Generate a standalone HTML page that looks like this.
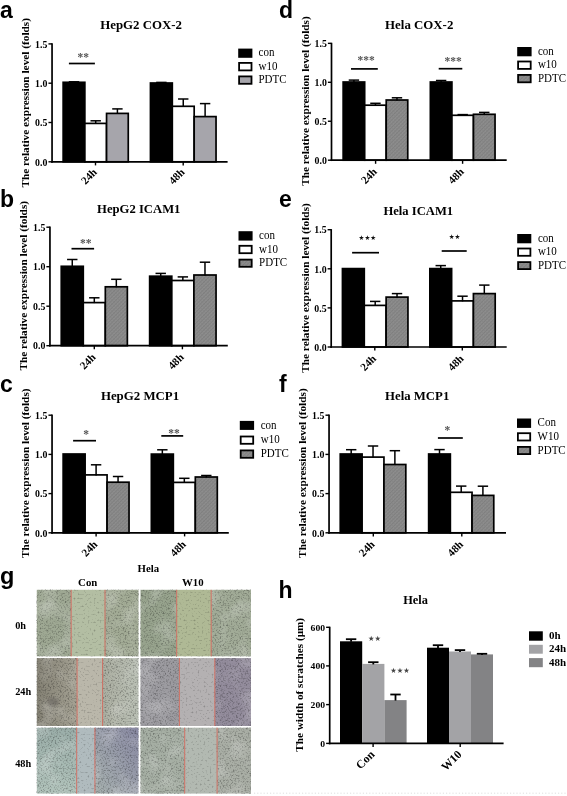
<!DOCTYPE html>
<html><head><meta charset="utf-8"><style>
html,body{margin:0;padding:0;background:#fff;}
svg{display:block;filter:blur(0.3px);}
</style></head><body>
<svg width="567" height="796" viewBox="0 0 567 796">
<defs><pattern id="hatch" width="2.6" height="2.6" patternUnits="userSpaceOnUse" patternTransform="rotate(45)"><rect width="2.6" height="2.6" fill="#8d8d8d"/><rect width="0.7" height="2.6" fill="#7b7b7b"/><rect width="2.6" height="0.6" fill="#838383"/></pattern><filter id="tex" x="0" y="0" width="100%" height="100%"><feTurbulence type="fractalNoise" baseFrequency="0.6" numOctaves="3" seed="7"/><feColorMatrix type="matrix" values="0 0 0 0 0  0 0 0 0 0  0 0 0 0 0  3 0 0 0 -1.45"/><feGaussianBlur stdDeviation="0.35"/></filter><filter id="mot" x="0" y="0" width="100%" height="100%"><feTurbulence type="fractalNoise" baseFrequency="0.05" numOctaves="2" seed="2"/><feColorMatrix type="matrix" values="0 0 0 0 1  0 0 0 0 1  0 0 0 0 1  2 0 0 0 -0.9"/></filter><filter id="blur" x="-50%" y="-50%" width="200%" height="200%"><feGaussianBlur stdDeviation="1.5"/></filter><filter id="tex2" x="0" y="0" width="100%" height="100%"><feTurbulence type="fractalNoise" baseFrequency="0.5" numOctaves="3" seed="11"/><feColorMatrix type="matrix" values="0 0 0 0 0  0 0 0 0 0  0 0 0 0 0  3.2 0 0 0 -1.85"/><feGaussianBlur stdDeviation="0.35"/></filter><linearGradient id="g1" x1="0" y1="0" x2="1" y2="0"><stop offset="0" stop-color="#838073"/><stop offset="1" stop-color="#a5a294"/></linearGradient><linearGradient id="g2" x1="0" y1="0" x2="1" y2="0"><stop offset="0" stop-color="#abaea1"/><stop offset="1" stop-color="#bac0b5"/></linearGradient><linearGradient id="g3" x1="0" y1="0" x2="0" y2="1"><stop offset="0" stop-color="#9aada8"/><stop offset="1" stop-color="#b1c3bb"/></linearGradient><linearGradient id="g4" x1="1" y1="0" x2="0" y2="1"><stop offset="0" stop-color="#8989a3"/><stop offset="1" stop-color="#a7b1af"/></linearGradient></defs>
<rect width="567" height="796" fill="#fff"/>
<rect x="63.15" y="82.30" width="21.70" height="79.50" fill="#000" stroke="#000" stroke-width="1.7"/>
<line x1="74.00" y1="82.80" x2="74.00" y2="81.80" stroke="#000" stroke-width="1.5"/>
<line x1="68.80" y1="81.80" x2="79.20" y2="81.80" stroke="#000" stroke-width="1.5"/>
<rect x="84.85" y="123.40" width="21.70" height="38.40" fill="#fff" stroke="#000" stroke-width="1.7"/>
<line x1="95.70" y1="123.90" x2="95.70" y2="120.80" stroke="#000" stroke-width="1.5"/>
<line x1="90.50" y1="120.80" x2="100.90" y2="120.80" stroke="#000" stroke-width="1.5"/>
<rect x="106.56" y="113.40" width="21.70" height="48.40" fill="#a6a5ab" stroke="#000" stroke-width="1.7"/>
<line x1="117.41" y1="113.90" x2="117.41" y2="108.90" stroke="#000" stroke-width="1.5"/>
<line x1="112.21" y1="108.90" x2="122.61" y2="108.90" stroke="#000" stroke-width="1.5"/>
<rect x="150.45" y="83.00" width="21.86" height="78.80" fill="#000" stroke="#000" stroke-width="1.7"/>
<line x1="161.38" y1="83.50" x2="161.38" y2="82.40" stroke="#000" stroke-width="1.5"/>
<line x1="156.18" y1="82.40" x2="166.58" y2="82.40" stroke="#000" stroke-width="1.5"/>
<rect x="172.31" y="106.30" width="21.86" height="55.50" fill="#fff" stroke="#000" stroke-width="1.7"/>
<line x1="183.25" y1="106.80" x2="183.25" y2="99.00" stroke="#000" stroke-width="1.5"/>
<line x1="178.05" y1="99.00" x2="188.44" y2="99.00" stroke="#000" stroke-width="1.5"/>
<rect x="194.18" y="116.60" width="21.86" height="45.20" fill="#a6a5ab" stroke="#000" stroke-width="1.7"/>
<line x1="205.11" y1="117.10" x2="205.11" y2="103.60" stroke="#000" stroke-width="1.5"/>
<line x1="199.91" y1="103.60" x2="210.31" y2="103.60" stroke="#000" stroke-width="1.5"/>
<line x1="52.05" y1="43.30" x2="52.05" y2="162.65" stroke="#000" stroke-width="1.7"/>
<line x1="51.20" y1="161.80" x2="227.60" y2="161.80" stroke="#000" stroke-width="1.7"/>
<line x1="48.45" y1="161.80" x2="52.05" y2="161.80" stroke="#000" stroke-width="1.4"/>
<text transform="translate(47.45 165.50) scale(1.06 1.0)" font-size="9.3" font-weight="bold" text-anchor="end" font-family="'Liberation Serif','Times New Roman',serif" fill="#000">0.0</text>
<line x1="48.45" y1="122.50" x2="52.05" y2="122.50" stroke="#000" stroke-width="1.4"/>
<text transform="translate(47.45 126.20) scale(1.06 1.0)" font-size="9.3" font-weight="bold" text-anchor="end" font-family="'Liberation Serif','Times New Roman',serif" fill="#000">0.5</text>
<line x1="48.45" y1="83.20" x2="52.05" y2="83.20" stroke="#000" stroke-width="1.4"/>
<text transform="translate(47.45 86.90) scale(1.06 1.0)" font-size="9.3" font-weight="bold" text-anchor="end" font-family="'Liberation Serif','Times New Roman',serif" fill="#000">1.0</text>
<line x1="48.45" y1="43.90" x2="52.05" y2="43.90" stroke="#000" stroke-width="1.4"/>
<text transform="translate(47.45 47.60) scale(1.06 1.0)" font-size="9.3" font-weight="bold" text-anchor="end" font-family="'Liberation Serif','Times New Roman',serif" fill="#000">1.5</text>
<line x1="95.50" y1="161.80" x2="95.50" y2="165.40" stroke="#000" stroke-width="1.4"/>
<text transform="translate(97.60 172.80) rotate(-45)" font-size="11.0" font-weight="bold" text-anchor="end" font-family="'Liberation Serif','Times New Roman',serif" fill="#000">24h</text>
<line x1="183.20" y1="161.80" x2="183.20" y2="165.40" stroke="#000" stroke-width="1.4"/>
<text transform="translate(185.30 172.80) rotate(-45)" font-size="11.0" font-weight="bold" text-anchor="end" font-family="'Liberation Serif','Times New Roman',serif" fill="#000">48h</text>
<text transform="translate(29.10 102.80) scale(0.97 1.0) rotate(-90)" font-size="11.3" font-weight="bold" text-anchor="middle" font-family="'Liberation Serif','Times New Roman',serif" fill="#000">The relative expression level (folds)</text>
<text transform="translate(100.20 29.20)" font-size="12.875" font-weight="bold" text-anchor="start" font-family="'Liberation Serif','Times New Roman',serif" fill="#000">HepG2 COX-2</text>
<line x1="68.90" y1="63.50" x2="94.90" y2="63.50" stroke="#000" stroke-width="1.7"/>
<text transform="translate(83.15 60.60)" font-size="11.5" font-weight="bold" text-anchor="middle" font-family="'Liberation Serif','Times New Roman',serif" fill="#555">**</text>
<rect x="239.10" y="49.50" width="12.40" height="7.40" fill="#000" stroke="#000" stroke-width="1.8"/>
<text transform="translate(258.50 56.40) scale(1.0 1.09)" font-size="11" font-weight="normal" text-anchor="start" font-family="'Liberation Serif','Times New Roman',serif" fill="#000">con</text>
<rect x="239.10" y="62.90" width="12.40" height="7.50" fill="#fff" stroke="#000" stroke-width="1.8"/>
<text transform="translate(258.50 69.85) scale(1.0 1.09)" font-size="11" font-weight="normal" text-anchor="start" font-family="'Liberation Serif','Times New Roman',serif" fill="#000">w10</text>
<rect x="239.10" y="76.40" width="12.40" height="7.40" fill="#a6a5ab" stroke="#000" stroke-width="1.8"/>
<text transform="translate(258.50 83.30) scale(1.0 1.09)" font-size="11" font-weight="normal" text-anchor="start" font-family="'Liberation Serif','Times New Roman',serif" fill="#000">PDTC</text>
<text transform="translate(0.00 18.00)" font-size="23" font-weight="bold" text-anchor="start" font-family="'Liberation Sans',Arial,sans-serif" fill="#000">a</text>
<rect x="343.15" y="82.00" width="21.53" height="78.20" fill="#000" stroke="#000" stroke-width="1.7"/>
<line x1="353.92" y1="82.50" x2="353.92" y2="80.10" stroke="#000" stroke-width="1.5"/>
<line x1="348.72" y1="80.10" x2="359.12" y2="80.10" stroke="#000" stroke-width="1.5"/>
<rect x="364.68" y="105.20" width="21.53" height="55.00" fill="#fff" stroke="#000" stroke-width="1.7"/>
<line x1="375.45" y1="105.70" x2="375.45" y2="103.30" stroke="#000" stroke-width="1.5"/>
<line x1="370.25" y1="103.30" x2="380.65" y2="103.30" stroke="#000" stroke-width="1.5"/>
<rect x="386.22" y="100.00" width="21.53" height="60.20" fill="url(#hatch)" stroke="#000" stroke-width="1.7"/>
<line x1="396.98" y1="100.50" x2="396.98" y2="97.80" stroke="#000" stroke-width="1.5"/>
<line x1="391.78" y1="97.80" x2="402.18" y2="97.80" stroke="#000" stroke-width="1.5"/>
<rect x="430.35" y="82.00" width="21.56" height="78.20" fill="#000" stroke="#000" stroke-width="1.7"/>
<line x1="441.13" y1="82.50" x2="441.13" y2="80.50" stroke="#000" stroke-width="1.5"/>
<line x1="435.93" y1="80.50" x2="446.33" y2="80.50" stroke="#000" stroke-width="1.5"/>
<rect x="451.91" y="115.30" width="21.56" height="44.90" fill="#fff" stroke="#000" stroke-width="1.7"/>
<line x1="462.70" y1="115.80" x2="462.70" y2="114.60" stroke="#000" stroke-width="1.5"/>
<line x1="457.50" y1="114.60" x2="467.90" y2="114.60" stroke="#000" stroke-width="1.5"/>
<rect x="473.48" y="114.30" width="21.56" height="45.90" fill="url(#hatch)" stroke="#000" stroke-width="1.7"/>
<line x1="484.26" y1="114.80" x2="484.26" y2="112.40" stroke="#000" stroke-width="1.5"/>
<line x1="479.06" y1="112.40" x2="489.46" y2="112.40" stroke="#000" stroke-width="1.5"/>
<line x1="331.50" y1="42.75" x2="331.50" y2="161.05" stroke="#000" stroke-width="1.7"/>
<line x1="330.65" y1="160.20" x2="506.70" y2="160.20" stroke="#000" stroke-width="1.7"/>
<line x1="327.90" y1="160.20" x2="331.50" y2="160.20" stroke="#000" stroke-width="1.4"/>
<text transform="translate(326.90 163.90) scale(1.06 1.0)" font-size="9.3" font-weight="bold" text-anchor="end" font-family="'Liberation Serif','Times New Roman',serif" fill="#000">0.0</text>
<line x1="327.90" y1="121.25" x2="331.50" y2="121.25" stroke="#000" stroke-width="1.4"/>
<text transform="translate(326.90 124.95) scale(1.06 1.0)" font-size="9.3" font-weight="bold" text-anchor="end" font-family="'Liberation Serif','Times New Roman',serif" fill="#000">0.5</text>
<line x1="327.90" y1="82.30" x2="331.50" y2="82.30" stroke="#000" stroke-width="1.4"/>
<text transform="translate(326.90 86.00) scale(1.06 1.0)" font-size="9.3" font-weight="bold" text-anchor="end" font-family="'Liberation Serif','Times New Roman',serif" fill="#000">1.0</text>
<line x1="327.90" y1="43.35" x2="331.50" y2="43.35" stroke="#000" stroke-width="1.4"/>
<text transform="translate(326.90 47.05) scale(1.06 1.0)" font-size="9.3" font-weight="bold" text-anchor="end" font-family="'Liberation Serif','Times New Roman',serif" fill="#000">1.5</text>
<line x1="375.60" y1="160.20" x2="375.60" y2="163.80" stroke="#000" stroke-width="1.4"/>
<text transform="translate(377.70 172.50) rotate(-45)" font-size="11.0" font-weight="bold" text-anchor="end" font-family="'Liberation Serif','Times New Roman',serif" fill="#000">24h</text>
<line x1="462.60" y1="160.20" x2="462.60" y2="163.80" stroke="#000" stroke-width="1.4"/>
<text transform="translate(464.70 172.50) rotate(-45)" font-size="11.0" font-weight="bold" text-anchor="end" font-family="'Liberation Serif','Times New Roman',serif" fill="#000">48h</text>
<text transform="translate(309.00 101.05) scale(0.97 1.0) rotate(-90)" font-size="11.3" font-weight="bold" text-anchor="middle" font-family="'Liberation Serif','Times New Roman',serif" fill="#000">The relative expression level (folds)</text>
<text transform="translate(385.10 28.90)" font-size="12.875" font-weight="bold" text-anchor="start" font-family="'Liberation Serif','Times New Roman',serif" fill="#000">Hela COX-2</text>
<line x1="351.00" y1="68.90" x2="377.80" y2="68.90" stroke="#000" stroke-width="1.7"/>
<text transform="translate(366.00 63.80)" font-size="11.5" font-weight="bold" text-anchor="middle" font-family="'Liberation Serif','Times New Roman',serif" fill="#555">***</text>
<line x1="438.70" y1="68.70" x2="462.30" y2="68.70" stroke="#000" stroke-width="1.7"/>
<text transform="translate(453.10 65.00)" font-size="11.5" font-weight="bold" text-anchor="middle" font-family="'Liberation Serif','Times New Roman',serif" fill="#555">***</text>
<rect x="518.10" y="47.90" width="12.60" height="7.50" fill="#000" stroke="#000" stroke-width="1.8"/>
<text transform="translate(537.90 54.85) scale(1.0 1.09)" font-size="11" font-weight="normal" text-anchor="start" font-family="'Liberation Serif','Times New Roman',serif" fill="#000">con</text>
<rect x="518.10" y="61.50" width="12.60" height="7.40" fill="#fff" stroke="#000" stroke-width="1.8"/>
<text transform="translate(537.90 68.40) scale(1.0 1.09)" font-size="11" font-weight="normal" text-anchor="start" font-family="'Liberation Serif','Times New Roman',serif" fill="#000">w10</text>
<rect x="518.10" y="74.90" width="12.60" height="7.40" fill="url(#hatch)" stroke="#000" stroke-width="1.8"/>
<text transform="translate(537.90 81.80) scale(1.0 1.09)" font-size="11" font-weight="normal" text-anchor="start" font-family="'Liberation Serif','Times New Roman',serif" fill="#000">PDTC</text>
<text transform="translate(279.00 18.00)" font-size="23" font-weight="bold" text-anchor="start" font-family="'Liberation Sans',Arial,sans-serif" fill="#000">d</text>
<rect x="61.25" y="266.30" width="22.03" height="79.40" fill="#000" stroke="#000" stroke-width="1.7"/>
<line x1="72.27" y1="266.80" x2="72.27" y2="259.50" stroke="#000" stroke-width="1.5"/>
<line x1="67.07" y1="259.50" x2="77.47" y2="259.50" stroke="#000" stroke-width="1.5"/>
<rect x="83.28" y="302.60" width="22.03" height="43.10" fill="#fff" stroke="#000" stroke-width="1.7"/>
<line x1="94.30" y1="303.10" x2="94.30" y2="297.80" stroke="#000" stroke-width="1.5"/>
<line x1="89.10" y1="297.80" x2="99.50" y2="297.80" stroke="#000" stroke-width="1.5"/>
<rect x="105.32" y="286.80" width="22.03" height="58.90" fill="url(#hatch)" stroke="#000" stroke-width="1.7"/>
<line x1="116.33" y1="287.30" x2="116.33" y2="279.30" stroke="#000" stroke-width="1.5"/>
<line x1="111.13" y1="279.30" x2="121.53" y2="279.30" stroke="#000" stroke-width="1.5"/>
<rect x="149.65" y="276.20" width="22.13" height="69.50" fill="#000" stroke="#000" stroke-width="1.7"/>
<line x1="160.72" y1="276.70" x2="160.72" y2="273.40" stroke="#000" stroke-width="1.5"/>
<line x1="155.52" y1="273.40" x2="165.92" y2="273.40" stroke="#000" stroke-width="1.5"/>
<rect x="171.78" y="280.50" width="22.13" height="65.20" fill="#fff" stroke="#000" stroke-width="1.7"/>
<line x1="182.85" y1="281.00" x2="182.85" y2="276.90" stroke="#000" stroke-width="1.5"/>
<line x1="177.65" y1="276.90" x2="188.05" y2="276.90" stroke="#000" stroke-width="1.5"/>
<rect x="193.92" y="275.00" width="22.13" height="70.70" fill="url(#hatch)" stroke="#000" stroke-width="1.7"/>
<line x1="204.98" y1="275.50" x2="204.98" y2="262.20" stroke="#000" stroke-width="1.5"/>
<line x1="199.78" y1="262.20" x2="210.18" y2="262.20" stroke="#000" stroke-width="1.5"/>
<line x1="49.95" y1="226.60" x2="49.95" y2="346.55" stroke="#000" stroke-width="1.7"/>
<line x1="49.10" y1="345.70" x2="227.80" y2="345.70" stroke="#000" stroke-width="1.7"/>
<line x1="46.35" y1="345.70" x2="49.95" y2="345.70" stroke="#000" stroke-width="1.4"/>
<text transform="translate(45.35 349.40) scale(1.06 1.0)" font-size="9.3" font-weight="bold" text-anchor="end" font-family="'Liberation Serif','Times New Roman',serif" fill="#000">0.0</text>
<line x1="46.35" y1="306.20" x2="49.95" y2="306.20" stroke="#000" stroke-width="1.4"/>
<text transform="translate(45.35 309.90) scale(1.06 1.0)" font-size="9.3" font-weight="bold" text-anchor="end" font-family="'Liberation Serif','Times New Roman',serif" fill="#000">0.5</text>
<line x1="46.35" y1="266.70" x2="49.95" y2="266.70" stroke="#000" stroke-width="1.4"/>
<text transform="translate(45.35 270.40) scale(1.06 1.0)" font-size="9.3" font-weight="bold" text-anchor="end" font-family="'Liberation Serif','Times New Roman',serif" fill="#000">1.0</text>
<line x1="46.35" y1="227.20" x2="49.95" y2="227.20" stroke="#000" stroke-width="1.4"/>
<text transform="translate(45.35 230.90) scale(1.06 1.0)" font-size="9.3" font-weight="bold" text-anchor="end" font-family="'Liberation Serif','Times New Roman',serif" fill="#000">1.5</text>
<line x1="94.30" y1="345.70" x2="94.30" y2="349.30" stroke="#000" stroke-width="1.4"/>
<text transform="translate(96.40 358.00) rotate(-45)" font-size="11.0" font-weight="bold" text-anchor="end" font-family="'Liberation Serif','Times New Roman',serif" fill="#000">24h</text>
<line x1="182.40" y1="345.70" x2="182.40" y2="349.30" stroke="#000" stroke-width="1.4"/>
<text transform="translate(184.50 358.00) rotate(-45)" font-size="11.0" font-weight="bold" text-anchor="end" font-family="'Liberation Serif','Times New Roman',serif" fill="#000">48h</text>
<text transform="translate(26.90 285.75) scale(0.97 1.0) rotate(-90)" font-size="11.3" font-weight="bold" text-anchor="middle" font-family="'Liberation Serif','Times New Roman',serif" fill="#000">The relative expression level (folds)</text>
<text transform="translate(97.10 212.60)" font-size="12.669" font-weight="bold" text-anchor="start" font-family="'Liberation Serif','Times New Roman',serif" fill="#000">HepG2 ICAM1</text>
<line x1="71.50" y1="248.70" x2="94.10" y2="248.70" stroke="#000" stroke-width="1.7"/>
<text transform="translate(85.80 246.50)" font-size="11.5" font-weight="bold" text-anchor="middle" font-family="'Liberation Serif','Times New Roman',serif" fill="#555">**</text>
<rect x="239.40" y="232.10" width="12.30" height="7.60" fill="#000" stroke="#000" stroke-width="1.8"/>
<text transform="translate(259.10 239.10) scale(1.0 1.09)" font-size="11" font-weight="normal" text-anchor="start" font-family="'Liberation Serif','Times New Roman',serif" fill="#000">con</text>
<rect x="239.40" y="245.80" width="12.30" height="7.40" fill="#fff" stroke="#000" stroke-width="1.8"/>
<text transform="translate(259.10 252.70) scale(1.0 1.09)" font-size="11" font-weight="normal" text-anchor="start" font-family="'Liberation Serif','Times New Roman',serif" fill="#000">w10</text>
<rect x="239.40" y="259.60" width="12.30" height="7.20" fill="url(#hatch)" stroke="#000" stroke-width="1.8"/>
<text transform="translate(259.10 266.40) scale(1.0 1.09)" font-size="11" font-weight="normal" text-anchor="start" font-family="'Liberation Serif','Times New Roman',serif" fill="#000">PDTC</text>
<text transform="translate(0.00 207.00)" font-size="23" font-weight="bold" text-anchor="start" font-family="'Liberation Sans',Arial,sans-serif" fill="#000">b</text>
<rect x="342.45" y="268.60" width="21.83" height="78.40" fill="#000" stroke="#000" stroke-width="1.7"/>
<rect x="364.28" y="305.40" width="21.83" height="41.60" fill="#fff" stroke="#000" stroke-width="1.7"/>
<line x1="375.20" y1="305.90" x2="375.20" y2="301.40" stroke="#000" stroke-width="1.5"/>
<line x1="370.00" y1="301.40" x2="380.40" y2="301.40" stroke="#000" stroke-width="1.5"/>
<rect x="386.12" y="297.10" width="21.83" height="49.90" fill="url(#hatch)" stroke="#000" stroke-width="1.7"/>
<line x1="397.03" y1="297.60" x2="397.03" y2="293.60" stroke="#000" stroke-width="1.5"/>
<line x1="391.83" y1="293.60" x2="402.23" y2="293.60" stroke="#000" stroke-width="1.5"/>
<rect x="429.85" y="268.60" width="21.78" height="78.40" fill="#000" stroke="#000" stroke-width="1.7"/>
<line x1="440.74" y1="269.10" x2="440.74" y2="265.60" stroke="#000" stroke-width="1.5"/>
<line x1="435.54" y1="265.60" x2="445.94" y2="265.60" stroke="#000" stroke-width="1.5"/>
<rect x="451.63" y="300.90" width="21.78" height="46.10" fill="#fff" stroke="#000" stroke-width="1.7"/>
<line x1="462.53" y1="301.40" x2="462.53" y2="296.20" stroke="#000" stroke-width="1.5"/>
<line x1="457.33" y1="296.20" x2="467.73" y2="296.20" stroke="#000" stroke-width="1.5"/>
<rect x="473.42" y="293.60" width="21.78" height="53.40" fill="url(#hatch)" stroke="#000" stroke-width="1.7"/>
<line x1="484.31" y1="294.10" x2="484.31" y2="285.10" stroke="#000" stroke-width="1.5"/>
<line x1="479.11" y1="285.10" x2="489.51" y2="285.10" stroke="#000" stroke-width="1.5"/>
<line x1="331.20" y1="229.10" x2="331.20" y2="347.85" stroke="#000" stroke-width="1.7"/>
<line x1="330.35" y1="347.00" x2="506.70" y2="347.00" stroke="#000" stroke-width="1.7"/>
<line x1="327.60" y1="347.00" x2="331.20" y2="347.00" stroke="#000" stroke-width="1.4"/>
<text transform="translate(326.60 350.70) scale(1.06 1.0)" font-size="9.3" font-weight="bold" text-anchor="end" font-family="'Liberation Serif','Times New Roman',serif" fill="#000">0.0</text>
<line x1="327.60" y1="307.90" x2="331.20" y2="307.90" stroke="#000" stroke-width="1.4"/>
<text transform="translate(326.60 311.60) scale(1.06 1.0)" font-size="9.3" font-weight="bold" text-anchor="end" font-family="'Liberation Serif','Times New Roman',serif" fill="#000">0.5</text>
<line x1="327.60" y1="268.80" x2="331.20" y2="268.80" stroke="#000" stroke-width="1.4"/>
<text transform="translate(326.60 272.50) scale(1.06 1.0)" font-size="9.3" font-weight="bold" text-anchor="end" font-family="'Liberation Serif','Times New Roman',serif" fill="#000">1.0</text>
<line x1="327.60" y1="229.70" x2="331.20" y2="229.70" stroke="#000" stroke-width="1.4"/>
<text transform="translate(326.60 233.40) scale(1.06 1.0)" font-size="9.3" font-weight="bold" text-anchor="end" font-family="'Liberation Serif','Times New Roman',serif" fill="#000">1.5</text>
<line x1="374.80" y1="347.00" x2="374.80" y2="350.60" stroke="#000" stroke-width="1.4"/>
<text transform="translate(376.90 359.30) rotate(-45)" font-size="11.0" font-weight="bold" text-anchor="end" font-family="'Liberation Serif','Times New Roman',serif" fill="#000">24h</text>
<line x1="462.30" y1="347.00" x2="462.30" y2="350.60" stroke="#000" stroke-width="1.4"/>
<text transform="translate(464.40 359.30) rotate(-45)" font-size="11.0" font-weight="bold" text-anchor="end" font-family="'Liberation Serif','Times New Roman',serif" fill="#000">48h</text>
<text transform="translate(308.80 288.00) scale(0.97 1.0) rotate(-90)" font-size="11.3" font-weight="bold" text-anchor="middle" font-family="'Liberation Serif','Times New Roman',serif" fill="#000">The relative expression level (folds)</text>
<text transform="translate(383.40 215.10)" font-size="12.6175" font-weight="bold" text-anchor="start" font-family="'Liberation Serif','Times New Roman',serif" fill="#000">Hela ICAM1</text>
<line x1="352.10" y1="252.70" x2="379.00" y2="252.70" stroke="#000" stroke-width="1.7"/>
<text transform="translate(367.30 240.30)" font-size="6.5" font-weight="normal" text-anchor="middle" font-family="'DejaVu Sans',sans-serif" fill="#111">★★★</text>
<line x1="441.70" y1="251.00" x2="466.70" y2="251.00" stroke="#000" stroke-width="1.7"/>
<text transform="translate(454.60 239.25)" font-size="6.5" font-weight="normal" text-anchor="middle" font-family="'DejaVu Sans',sans-serif" fill="#111">★★</text>
<rect x="518.10" y="234.90" width="12.30" height="7.50" fill="#000" stroke="#000" stroke-width="1.8"/>
<text transform="translate(537.90 241.85) scale(1.0 1.09)" font-size="11" font-weight="normal" text-anchor="start" font-family="'Liberation Serif','Times New Roman',serif" fill="#000">con</text>
<rect x="518.10" y="248.50" width="12.30" height="7.30" fill="#fff" stroke="#000" stroke-width="1.8"/>
<text transform="translate(537.90 255.35) scale(1.0 1.09)" font-size="11" font-weight="normal" text-anchor="start" font-family="'Liberation Serif','Times New Roman',serif" fill="#000">w10</text>
<rect x="518.10" y="262.10" width="12.30" height="7.00" fill="url(#hatch)" stroke="#000" stroke-width="1.8"/>
<text transform="translate(537.90 268.80) scale(1.0 1.09)" font-size="11" font-weight="normal" text-anchor="start" font-family="'Liberation Serif','Times New Roman',serif" fill="#000">PDTC</text>
<text transform="translate(279.00 207.00)" font-size="23" font-weight="bold" text-anchor="start" font-family="'Liberation Sans',Arial,sans-serif" fill="#000">e</text>
<rect x="63.15" y="454.00" width="21.96" height="78.80" fill="#000" stroke="#000" stroke-width="1.7"/>
<rect x="85.11" y="474.90" width="21.96" height="57.90" fill="#fff" stroke="#000" stroke-width="1.7"/>
<line x1="96.09" y1="475.40" x2="96.09" y2="464.80" stroke="#000" stroke-width="1.5"/>
<line x1="90.89" y1="464.80" x2="101.30" y2="464.80" stroke="#000" stroke-width="1.5"/>
<rect x="107.08" y="482.20" width="21.96" height="50.60" fill="url(#hatch)" stroke="#000" stroke-width="1.7"/>
<line x1="118.06" y1="482.70" x2="118.06" y2="476.50" stroke="#000" stroke-width="1.5"/>
<line x1="112.86" y1="476.50" x2="123.26" y2="476.50" stroke="#000" stroke-width="1.5"/>
<rect x="151.35" y="454.10" width="21.98" height="78.70" fill="#000" stroke="#000" stroke-width="1.7"/>
<line x1="162.34" y1="454.60" x2="162.34" y2="449.80" stroke="#000" stroke-width="1.5"/>
<line x1="157.14" y1="449.80" x2="167.54" y2="449.80" stroke="#000" stroke-width="1.5"/>
<rect x="173.33" y="482.40" width="21.98" height="50.40" fill="#fff" stroke="#000" stroke-width="1.7"/>
<line x1="184.32" y1="482.90" x2="184.32" y2="478.30" stroke="#000" stroke-width="1.5"/>
<line x1="179.12" y1="478.30" x2="189.52" y2="478.30" stroke="#000" stroke-width="1.5"/>
<rect x="195.32" y="477.00" width="21.98" height="55.80" fill="url(#hatch)" stroke="#000" stroke-width="1.7"/>
<line x1="206.31" y1="477.50" x2="206.31" y2="475.50" stroke="#000" stroke-width="1.5"/>
<line x1="201.11" y1="475.50" x2="211.51" y2="475.50" stroke="#000" stroke-width="1.5"/>
<line x1="52.05" y1="414.60" x2="52.05" y2="533.65" stroke="#000" stroke-width="1.7"/>
<line x1="51.20" y1="532.80" x2="228.80" y2="532.80" stroke="#000" stroke-width="1.7"/>
<line x1="48.45" y1="532.80" x2="52.05" y2="532.80" stroke="#000" stroke-width="1.4"/>
<text transform="translate(47.45 536.50) scale(1.06 1.0)" font-size="9.3" font-weight="bold" text-anchor="end" font-family="'Liberation Serif','Times New Roman',serif" fill="#000">0.0</text>
<line x1="48.45" y1="493.60" x2="52.05" y2="493.60" stroke="#000" stroke-width="1.4"/>
<text transform="translate(47.45 497.30) scale(1.06 1.0)" font-size="9.3" font-weight="bold" text-anchor="end" font-family="'Liberation Serif','Times New Roman',serif" fill="#000">0.5</text>
<line x1="48.45" y1="454.40" x2="52.05" y2="454.40" stroke="#000" stroke-width="1.4"/>
<text transform="translate(47.45 458.10) scale(1.06 1.0)" font-size="9.3" font-weight="bold" text-anchor="end" font-family="'Liberation Serif','Times New Roman',serif" fill="#000">1.0</text>
<line x1="48.45" y1="415.20" x2="52.05" y2="415.20" stroke="#000" stroke-width="1.4"/>
<text transform="translate(47.45 418.90) scale(1.06 1.0)" font-size="9.3" font-weight="bold" text-anchor="end" font-family="'Liberation Serif','Times New Roman',serif" fill="#000">1.5</text>
<line x1="96.10" y1="532.80" x2="96.10" y2="536.40" stroke="#000" stroke-width="1.4"/>
<text transform="translate(98.20 545.10) rotate(-45)" font-size="11.0" font-weight="bold" text-anchor="end" font-family="'Liberation Serif','Times New Roman',serif" fill="#000">24h</text>
<line x1="184.60" y1="532.80" x2="184.60" y2="536.40" stroke="#000" stroke-width="1.4"/>
<text transform="translate(186.70 545.10) rotate(-45)" font-size="11.0" font-weight="bold" text-anchor="end" font-family="'Liberation Serif','Times New Roman',serif" fill="#000">48h</text>
<text transform="translate(29.00 473.25) scale(0.97 1.0) rotate(-90)" font-size="11.3" font-weight="bold" text-anchor="middle" font-family="'Liberation Serif','Times New Roman',serif" fill="#000">The relative expression level (folds)</text>
<text transform="translate(100.90 400.30)" font-size="12.875" font-weight="bold" text-anchor="start" font-family="'Liberation Serif','Times New Roman',serif" fill="#000">HepG2 MCP1</text>
<line x1="73.10" y1="440.70" x2="96.00" y2="440.70" stroke="#000" stroke-width="1.7"/>
<text transform="translate(86.00 437.90)" font-size="11.5" font-weight="bold" text-anchor="middle" font-family="'Liberation Serif','Times New Roman',serif" fill="#555">*</text>
<line x1="161.30" y1="435.90" x2="183.20" y2="435.90" stroke="#000" stroke-width="1.7"/>
<text transform="translate(173.90 436.50)" font-size="11.5" font-weight="bold" text-anchor="middle" font-family="'Liberation Serif','Times New Roman',serif" fill="#555">**</text>
<rect x="240.70" y="421.80" width="12.50" height="7.20" fill="#000" stroke="#000" stroke-width="1.8"/>
<text transform="translate(260.70 428.60) scale(1.0 1.09)" font-size="11" font-weight="normal" text-anchor="start" font-family="'Liberation Serif','Times New Roman',serif" fill="#000">con</text>
<rect x="240.70" y="436.50" width="12.50" height="7.30" fill="#fff" stroke="#000" stroke-width="1.8"/>
<text transform="translate(260.70 443.35) scale(1.0 1.09)" font-size="11" font-weight="normal" text-anchor="start" font-family="'Liberation Serif','Times New Roman',serif" fill="#000">w10</text>
<rect x="240.70" y="450.40" width="12.50" height="7.40" fill="url(#hatch)" stroke="#000" stroke-width="1.8"/>
<text transform="translate(260.70 457.30) scale(1.0 1.09)" font-size="11" font-weight="normal" text-anchor="start" font-family="'Liberation Serif','Times New Roman',serif" fill="#000">PDTC</text>
<text transform="translate(0.00 392.00)" font-size="23" font-weight="bold" text-anchor="start" font-family="'Liberation Sans',Arial,sans-serif" fill="#000">c</text>
<rect x="340.25" y="454.00" width="21.85" height="78.80" fill="#000" stroke="#000" stroke-width="1.7"/>
<line x1="351.18" y1="454.50" x2="351.18" y2="449.70" stroke="#000" stroke-width="1.5"/>
<line x1="345.98" y1="449.70" x2="356.38" y2="449.70" stroke="#000" stroke-width="1.5"/>
<rect x="362.10" y="457.10" width="21.85" height="75.70" fill="#fff" stroke="#000" stroke-width="1.7"/>
<line x1="373.03" y1="457.60" x2="373.03" y2="446.00" stroke="#000" stroke-width="1.5"/>
<line x1="367.83" y1="446.00" x2="378.23" y2="446.00" stroke="#000" stroke-width="1.5"/>
<rect x="383.96" y="464.50" width="21.85" height="68.30" fill="url(#hatch)" stroke="#000" stroke-width="1.7"/>
<line x1="394.88" y1="465.00" x2="394.88" y2="450.70" stroke="#000" stroke-width="1.5"/>
<line x1="389.68" y1="450.70" x2="400.08" y2="450.70" stroke="#000" stroke-width="1.5"/>
<rect x="428.65" y="454.00" width="21.70" height="78.80" fill="#000" stroke="#000" stroke-width="1.7"/>
<line x1="439.50" y1="454.50" x2="439.50" y2="449.60" stroke="#000" stroke-width="1.5"/>
<line x1="434.30" y1="449.60" x2="444.70" y2="449.60" stroke="#000" stroke-width="1.5"/>
<rect x="450.35" y="492.30" width="21.70" height="40.50" fill="#fff" stroke="#000" stroke-width="1.7"/>
<line x1="461.21" y1="492.80" x2="461.21" y2="486.10" stroke="#000" stroke-width="1.5"/>
<line x1="456.01" y1="486.10" x2="466.41" y2="486.10" stroke="#000" stroke-width="1.5"/>
<rect x="472.06" y="495.40" width="21.70" height="37.40" fill="url(#hatch)" stroke="#000" stroke-width="1.7"/>
<line x1="482.91" y1="495.90" x2="482.91" y2="486.20" stroke="#000" stroke-width="1.5"/>
<line x1="477.71" y1="486.20" x2="488.11" y2="486.20" stroke="#000" stroke-width="1.5"/>
<line x1="329.05" y1="414.60" x2="329.05" y2="533.65" stroke="#000" stroke-width="1.7"/>
<line x1="328.20" y1="532.80" x2="506.00" y2="532.80" stroke="#000" stroke-width="1.7"/>
<line x1="325.45" y1="532.80" x2="329.05" y2="532.80" stroke="#000" stroke-width="1.4"/>
<text transform="translate(324.45 536.50) scale(1.06 1.0)" font-size="9.3" font-weight="bold" text-anchor="end" font-family="'Liberation Serif','Times New Roman',serif" fill="#000">0.0</text>
<line x1="325.45" y1="493.60" x2="329.05" y2="493.60" stroke="#000" stroke-width="1.4"/>
<text transform="translate(324.45 497.30) scale(1.06 1.0)" font-size="9.3" font-weight="bold" text-anchor="end" font-family="'Liberation Serif','Times New Roman',serif" fill="#000">0.5</text>
<line x1="325.45" y1="454.40" x2="329.05" y2="454.40" stroke="#000" stroke-width="1.4"/>
<text transform="translate(324.45 458.10) scale(1.06 1.0)" font-size="9.3" font-weight="bold" text-anchor="end" font-family="'Liberation Serif','Times New Roman',serif" fill="#000">1.0</text>
<line x1="325.45" y1="415.20" x2="329.05" y2="415.20" stroke="#000" stroke-width="1.4"/>
<text transform="translate(324.45 418.90) scale(1.06 1.0)" font-size="9.3" font-weight="bold" text-anchor="end" font-family="'Liberation Serif','Times New Roman',serif" fill="#000">1.5</text>
<line x1="373.30" y1="532.80" x2="373.30" y2="536.40" stroke="#000" stroke-width="1.4"/>
<text transform="translate(375.40 545.10) rotate(-45)" font-size="11.0" font-weight="bold" text-anchor="end" font-family="'Liberation Serif','Times New Roman',serif" fill="#000">24h</text>
<line x1="461.80" y1="532.80" x2="461.80" y2="536.40" stroke="#000" stroke-width="1.4"/>
<text transform="translate(463.90 545.10) rotate(-45)" font-size="11.0" font-weight="bold" text-anchor="end" font-family="'Liberation Serif','Times New Roman',serif" fill="#000">48h</text>
<text transform="translate(305.90 473.10) scale(0.97 1.0) rotate(-90)" font-size="11.3" font-weight="bold" text-anchor="middle" font-family="'Liberation Serif','Times New Roman',serif" fill="#000">The relative expression level (folds)</text>
<text transform="translate(385.10 400.20)" font-size="12.772" font-weight="bold" text-anchor="start" font-family="'Liberation Serif','Times New Roman',serif" fill="#000">Hela MCP1</text>
<line x1="437.90" y1="438.00" x2="462.80" y2="438.00" stroke="#000" stroke-width="1.7"/>
<text transform="translate(447.30 433.60)" font-size="11.5" font-weight="bold" text-anchor="middle" font-family="'Liberation Serif','Times New Roman',serif" fill="#555">*</text>
<rect x="517.90" y="419.40" width="12.30" height="7.60" fill="#000" stroke="#000" stroke-width="1.8"/>
<text transform="translate(537.60 426.40) scale(1.0 1.09)" font-size="11" font-weight="normal" text-anchor="start" font-family="'Liberation Serif','Times New Roman',serif" fill="#000">Con</text>
<rect x="517.90" y="433.20" width="12.30" height="7.30" fill="#fff" stroke="#000" stroke-width="1.8"/>
<text transform="translate(537.60 440.05) scale(1.0 1.09)" font-size="11" font-weight="normal" text-anchor="start" font-family="'Liberation Serif','Times New Roman',serif" fill="#000">W10</text>
<rect x="517.90" y="446.90" width="12.30" height="7.20" fill="url(#hatch)" stroke="#000" stroke-width="1.8"/>
<text transform="translate(537.60 453.70) scale(1.0 1.09)" font-size="11" font-weight="normal" text-anchor="start" font-family="'Liberation Serif','Times New Roman',serif" fill="#000">PDTC</text>
<text transform="translate(279.00 392.00)" font-size="23" font-weight="bold" text-anchor="start" font-family="'Liberation Sans',Arial,sans-serif" fill="#000">f</text>
<rect x="340.00" y="641.30" width="22.20" height="102.10" fill="#000"/>
<line x1="351.10" y1="641.80" x2="351.10" y2="639.20" stroke="#000" stroke-width="1.8"/>
<line x1="345.90" y1="639.20" x2="356.30" y2="639.20" stroke="#000" stroke-width="1.8"/>
<rect x="362.20" y="663.90" width="22.20" height="79.50" fill="#a3a3a6"/>
<line x1="373.30" y1="664.40" x2="373.30" y2="662.20" stroke="#000" stroke-width="1.8"/>
<line x1="368.10" y1="662.20" x2="378.50" y2="662.20" stroke="#000" stroke-width="1.8"/>
<rect x="384.40" y="700.10" width="22.20" height="43.30" fill="#838385"/>
<line x1="395.50" y1="700.60" x2="395.50" y2="694.50" stroke="#000" stroke-width="1.8"/>
<line x1="390.30" y1="694.50" x2="400.70" y2="694.50" stroke="#000" stroke-width="1.8"/>
<rect x="427.00" y="647.70" width="22.00" height="95.70" fill="#000"/>
<line x1="438.00" y1="648.20" x2="438.00" y2="645.20" stroke="#000" stroke-width="1.8"/>
<line x1="432.80" y1="645.20" x2="443.20" y2="645.20" stroke="#000" stroke-width="1.8"/>
<rect x="449.00" y="651.50" width="22.00" height="91.90" fill="#a3a3a6"/>
<line x1="460.00" y1="652.00" x2="460.00" y2="650.10" stroke="#000" stroke-width="1.8"/>
<line x1="454.80" y1="650.10" x2="465.20" y2="650.10" stroke="#000" stroke-width="1.8"/>
<rect x="471.00" y="654.40" width="22.00" height="89.00" fill="#838385"/>
<line x1="482.00" y1="654.90" x2="482.00" y2="653.80" stroke="#000" stroke-width="1.8"/>
<line x1="476.80" y1="653.80" x2="487.20" y2="653.80" stroke="#000" stroke-width="1.8"/>
<line x1="329.70" y1="626.70" x2="329.70" y2="744.25" stroke="#000" stroke-width="1.7"/>
<line x1="328.85" y1="743.40" x2="503.60" y2="743.40" stroke="#000" stroke-width="1.7"/>
<line x1="326.10" y1="743.40" x2="329.70" y2="743.40" stroke="#000" stroke-width="1.4"/>
<text transform="translate(325.10 746.70) scale(1.18 1.0)" font-size="8.2" font-weight="bold" text-anchor="end" font-family="'Liberation Serif','Times New Roman',serif" fill="#000">0</text>
<line x1="326.10" y1="704.60" x2="329.70" y2="704.60" stroke="#000" stroke-width="1.4"/>
<text transform="translate(325.10 707.90) scale(1.18 1.0)" font-size="8.2" font-weight="bold" text-anchor="end" font-family="'Liberation Serif','Times New Roman',serif" fill="#000">200</text>
<line x1="326.10" y1="665.90" x2="329.70" y2="665.90" stroke="#000" stroke-width="1.4"/>
<text transform="translate(325.10 669.20) scale(1.18 1.0)" font-size="8.2" font-weight="bold" text-anchor="end" font-family="'Liberation Serif','Times New Roman',serif" fill="#000">400</text>
<line x1="326.10" y1="627.30" x2="329.70" y2="627.30" stroke="#000" stroke-width="1.4"/>
<text transform="translate(325.10 630.60) scale(1.18 1.0)" font-size="8.2" font-weight="bold" text-anchor="end" font-family="'Liberation Serif','Times New Roman',serif" fill="#000">600</text>
<line x1="373.10" y1="743.40" x2="373.10" y2="747.00" stroke="#000" stroke-width="1.4"/>
<text transform="translate(375.20 755.10) rotate(-45)" font-size="11.6" font-weight="bold" text-anchor="end" font-family="'Liberation Serif','Times New Roman',serif" fill="#000">Con</text>
<line x1="460.20" y1="743.40" x2="460.20" y2="747.00" stroke="#000" stroke-width="1.4"/>
<text transform="translate(462.30 755.10) rotate(-45)" font-size="11.6" font-weight="bold" text-anchor="end" font-family="'Liberation Serif','Times New Roman',serif" fill="#000">W10</text>
<text transform="translate(303.00 684.80) scale(0.97 1.0) rotate(-90)" font-size="11.2" font-weight="bold" text-anchor="middle" font-family="'Liberation Serif','Times New Roman',serif" fill="#000">The width of scratches (μm)</text>
<text transform="translate(403.20 603.80)" font-size="12.36" font-weight="bold" text-anchor="start" font-family="'Liberation Serif','Times New Roman',serif" fill="#000">Hela</text>
<text transform="translate(374.40 641.20)" font-size="7.2" font-weight="normal" text-anchor="middle" font-family="'DejaVu Sans',sans-serif" fill="#444">★★</text>
<text transform="translate(400.00 673.40)" font-size="7.2" font-weight="normal" text-anchor="middle" font-family="'DejaVu Sans',sans-serif" fill="#444">★★★</text>
<rect x="529.00" y="631.30" width="13.80" height="9.40" fill="#000"/>
<text transform="translate(548.90 639.20)" font-size="11" font-weight="bold" text-anchor="start" font-family="'Liberation Serif','Times New Roman',serif" fill="#000">0h</text>
<rect x="529.00" y="644.80" width="13.80" height="8.90" fill="#a3a3a6"/>
<text transform="translate(548.90 652.45)" font-size="11" font-weight="bold" text-anchor="start" font-family="'Liberation Serif','Times New Roman',serif" fill="#000">24h</text>
<rect x="529.00" y="658.10" width="13.80" height="9.10" fill="#838385"/>
<text transform="translate(548.90 665.85)" font-size="11" font-weight="bold" text-anchor="start" font-family="'Liberation Serif','Times New Roman',serif" fill="#000">48h</text>
<text transform="translate(278.50 597.80)" font-size="23" font-weight="bold" text-anchor="start" font-family="'Liberation Sans',Arial,sans-serif" fill="#000">h</text>
<text transform="translate(0.00 583.50)" font-size="23.5" font-weight="bold" text-anchor="start" font-family="'Liberation Sans',Arial,sans-serif" fill="#000">g</text>
<text transform="translate(148.40 572.30)" font-size="10.8" font-weight="bold" text-anchor="middle" font-family="'Liberation Serif','Times New Roman',serif" fill="#000">Hela</text>
<text transform="translate(87.70 586.40)" font-size="10.8" font-weight="bold" text-anchor="middle" font-family="'Liberation Serif','Times New Roman',serif" fill="#000">Con</text>
<text transform="translate(192.80 586.40)" font-size="10.8" font-weight="bold" text-anchor="middle" font-family="'Liberation Serif','Times New Roman',serif" fill="#000">W10</text>
<text transform="translate(15.20 628.60)" font-size="10.3" font-weight="bold" text-anchor="start" font-family="'Liberation Serif','Times New Roman',serif" fill="#000">0h</text>
<text transform="translate(15.20 695.00)" font-size="10.3" font-weight="bold" text-anchor="start" font-family="'Liberation Serif','Times New Roman',serif" fill="#000">24h</text>
<text transform="translate(15.20 767.40)" font-size="10.3" font-weight="bold" text-anchor="start" font-family="'Liberation Serif','Times New Roman',serif" fill="#000">48h</text>
<rect x="36.80" y="589.80" width="34.40" height="66.50" fill="#9ea893"/>
<rect x="36.80" y="589.80" width="34.40" height="66.50" fill="#000" filter="url(#tex)" opacity="0.3"/>
<rect x="36.80" y="589.80" width="34.40" height="66.50" filter="url(#mot)" opacity="0.3"/>
<rect x="71.20" y="589.80" width="33.80" height="66.50" fill="#b3bea3"/>
<rect x="71.20" y="589.80" width="33.80" height="66.50" fill="#000" filter="url(#tex2)" opacity="0.25"/>
<rect x="105.00" y="589.80" width="33.50" height="66.50" fill="#a2ab95"/>
<rect x="105.00" y="589.80" width="33.50" height="66.50" fill="#000" filter="url(#tex)" opacity="0.3"/>
<rect x="105.00" y="589.80" width="33.50" height="66.50" filter="url(#mot)" opacity="0.3"/>
<line x1="71.20" y1="589.80" x2="71.20" y2="656.30" stroke="#cf6a5e" stroke-width="0.95"/>
<line x1="105.00" y1="589.80" x2="105.00" y2="656.30" stroke="#cf6a5e" stroke-width="0.95"/>
<rect x="140.50" y="589.80" width="36.20" height="66.50" fill="#97a38d"/>
<rect x="140.50" y="589.80" width="36.20" height="66.50" fill="#000" filter="url(#tex)" opacity="0.3"/>
<rect x="140.50" y="589.80" width="36.20" height="66.50" filter="url(#mot)" opacity="0.3"/>
<rect x="176.70" y="589.80" width="34.50" height="66.50" fill="#afb995"/>
<rect x="176.70" y="589.80" width="34.50" height="66.50" fill="#000" filter="url(#tex2)" opacity="0.25"/>
<rect x="211.20" y="589.80" width="39.80" height="66.50" fill="#a1ab97"/>
<rect x="211.20" y="589.80" width="39.80" height="66.50" fill="#000" filter="url(#tex)" opacity="0.3"/>
<rect x="211.20" y="589.80" width="39.80" height="66.50" filter="url(#mot)" opacity="0.3"/>
<line x1="176.70" y1="589.80" x2="176.70" y2="656.30" stroke="#cf6a5e" stroke-width="0.95"/>
<line x1="211.20" y1="589.80" x2="211.20" y2="656.30" stroke="#cf6a5e" stroke-width="0.95"/>
<rect x="36.80" y="658.10" width="40.30" height="67.90" fill="url(#g1)"/>
<rect x="36.80" y="658.10" width="40.30" height="67.90" fill="#000" filter="url(#tex)" opacity="0.3"/>
<rect x="36.80" y="658.10" width="40.30" height="67.90" filter="url(#mot)" opacity="0.3"/>
<rect x="77.10" y="658.10" width="25.50" height="67.90" fill="#bab7aa"/>
<rect x="77.10" y="658.10" width="25.50" height="67.90" fill="#000" filter="url(#tex2)" opacity="0.25"/>
<rect x="102.60" y="658.10" width="35.90" height="67.90" fill="url(#g2)"/>
<rect x="102.60" y="658.10" width="35.90" height="67.90" fill="#000" filter="url(#tex)" opacity="0.3"/>
<rect x="102.60" y="658.10" width="35.90" height="67.90" filter="url(#mot)" opacity="0.3"/>
<ellipse cx="53" cy="702" rx="6" ry="4.5" fill="#4e4a45" opacity="0.45" filter="url(#blur)"/>
<line x1="77.10" y1="658.10" x2="77.10" y2="726.00" stroke="#cf6a5e" stroke-width="0.95"/>
<line x1="102.60" y1="658.10" x2="102.60" y2="726.00" stroke="#cf6a5e" stroke-width="0.95"/>
<rect x="140.50" y="658.10" width="38.90" height="67.90" fill="#9c9ba0"/>
<rect x="140.50" y="658.10" width="38.90" height="67.90" fill="#000" filter="url(#tex)" opacity="0.3"/>
<rect x="140.50" y="658.10" width="38.90" height="67.90" filter="url(#mot)" opacity="0.3"/>
<rect x="179.40" y="658.10" width="35.40" height="67.90" fill="#b4b1b2"/>
<rect x="179.40" y="658.10" width="35.40" height="67.90" fill="#000" filter="url(#tex2)" opacity="0.25"/>
<rect x="214.80" y="658.10" width="36.20" height="67.90" fill="#938c9c"/>
<rect x="214.80" y="658.10" width="36.20" height="67.90" fill="#000" filter="url(#tex)" opacity="0.3"/>
<rect x="214.80" y="658.10" width="36.20" height="67.90" filter="url(#mot)" opacity="0.3"/>
<line x1="179.40" y1="658.10" x2="179.40" y2="726.00" stroke="#cf6a5e" stroke-width="0.95"/>
<line x1="214.80" y1="658.10" x2="214.80" y2="726.00" stroke="#cf6a5e" stroke-width="0.95"/>
<rect x="36.80" y="727.70" width="39.90" height="65.90" fill="url(#g3)"/>
<rect x="36.80" y="727.70" width="39.90" height="65.90" fill="#000" filter="url(#tex)" opacity="0.3"/>
<rect x="36.80" y="727.70" width="39.90" height="65.90" filter="url(#mot)" opacity="0.3"/>
<rect x="76.70" y="727.70" width="18.20" height="65.90" fill="#b0bbbe"/>
<rect x="76.70" y="727.70" width="18.20" height="65.90" fill="#000" filter="url(#tex2)" opacity="0.25"/>
<rect x="94.90" y="727.70" width="43.60" height="65.90" fill="url(#g4)"/>
<rect x="94.90" y="727.70" width="43.60" height="65.90" fill="#000" filter="url(#tex)" opacity="0.3"/>
<rect x="94.90" y="727.70" width="43.60" height="65.90" filter="url(#mot)" opacity="0.3"/>
<line x1="76.70" y1="727.70" x2="76.70" y2="793.60" stroke="#cf6a5e" stroke-width="0.95"/>
<line x1="94.90" y1="727.70" x2="94.90" y2="793.60" stroke="#cf6a5e" stroke-width="0.95"/>
<rect x="140.50" y="727.70" width="44.20" height="65.90" fill="#a5aea3"/>
<rect x="140.50" y="727.70" width="44.20" height="65.90" fill="#000" filter="url(#tex)" opacity="0.3"/>
<rect x="140.50" y="727.70" width="44.20" height="65.90" filter="url(#mot)" opacity="0.3"/>
<rect x="184.70" y="727.70" width="32.40" height="65.90" fill="#b2b9b1"/>
<rect x="184.70" y="727.70" width="32.40" height="65.90" fill="#000" filter="url(#tex2)" opacity="0.25"/>
<rect x="217.10" y="727.70" width="33.90" height="65.90" fill="#a9aea5"/>
<rect x="217.10" y="727.70" width="33.90" height="65.90" fill="#000" filter="url(#tex)" opacity="0.3"/>
<rect x="217.10" y="727.70" width="33.90" height="65.90" filter="url(#mot)" opacity="0.3"/>
<line x1="184.70" y1="727.70" x2="184.70" y2="793.60" stroke="#cf6a5e" stroke-width="0.95"/>
<line x1="217.10" y1="727.70" x2="217.10" y2="793.60" stroke="#cf6a5e" stroke-width="0.95"/>
<line x1="254" y1="793.2" x2="567" y2="793.2" stroke="#d8d8d8" stroke-width="0.8" stroke-dasharray="1.2 2"/>
</svg>
</body></html>
